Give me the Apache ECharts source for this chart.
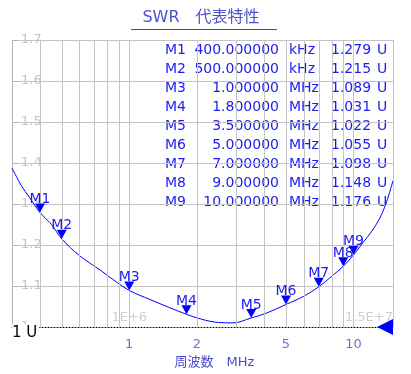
<!DOCTYPE html>
<html><head><meta charset="utf-8">
<script src="https://cdn.jsdelivr.net/npm/echarts@6/dist/echarts.min.js"></script>
<style>html,body{margin:0;padding:0;background:#fff}#c{width:411px;height:374px}</style>
</head><body><div id="c"></div>
<script>
// curve samples (MHz, SWR)
const curveFreqs = [0.3, 0.33, 0.36, 0.4, 0.45, 0.5, 0.6, 0.75, 0.88, 1.0, 1.25, 1.5, 1.8, 2.1, 2.5, 2.9, 3.5, 4.1, 5.0, 6.0, 7.0, 8.0, 9.0, 10.0, 11.0, 12.0, 13.0, 14.0, 15.0];
const curveSwr   = [1.388, 1.345, 1.315, 1.279, 1.250, 1.215, 1.174, 1.137, 1.109, 1.089, 1.066, 1.048, 1.031, 1.019, 1.011, 1.010, 1.022, 1.034, 1.055, 1.075, 1.098, 1.124, 1.148, 1.176, 1.205, 1.232, 1.262, 1.303, 1.357];
// markers
const markerNames = ['M1','M2','M3','M4','M5','M6','M7','M8','M9'];
const markerFreqs = [0.4, 0.5, 1.0, 1.8, 3.5, 5.0, 7.0, 9.0, 10.0];
const markerVals  = [1.279, 1.215, 1.089, 1.031, 1.022, 1.055, 1.098, 1.148, 1.176];
// axis
const gridFreqs = [0.4,0.5,0.6,0.7,0.8,0.9,1,2,3,4,5,6,7,8,9,10,15];
const tickLabelFreqs = [1, 2, 5, 10];
const tickLabels = ['1','2','5','10'];
const innerLabelFreqs = [1, 15];
const innerLabels = ['1E+6', '1.5E+7'];

const blue = '#1c1cf0';
const font = '"DejaVu Sans", "Noto Sans CJK JP", sans-serif';

const table = [];
markerNames.forEach((n, i) => {
  const y = 50 + i * 19;
  const f = markerFreqs[i];
  const ft = f < 1 ? (f * 1000).toFixed(6) : f.toFixed(6);
  const unit = f < 1 ? 'kHz' : 'MHz';
  const st = {fill: blue, font: '14px ' + font, verticalAlign: 'middle'};
  table.push({type:'text', x:165, y:y, style:Object.assign({text:n, align:'left'}, st)});
  table.push({type:'text', x:279, y:y, style:Object.assign({text:ft, align:'right'}, st)});
  table.push({type:'text', x:289, y:y, style:Object.assign({text:unit, align:'left'}, st)});
  table.push({type:'text', x:331, y:y, style:Object.assign({text:markerVals[i].toFixed(3), align:'left'}, st)});
  table.push({type:'text', x:377, y:y, style:Object.assign({text:'U', align:'left'}, st)});
});

const chart = echarts.init(document.getElementById('c'));
chart.setOption({
  animation: false,
  backgroundColor: '#fff',
  grid: {left: 12, right: 18, top: 40, bottom: 41},
  xAxis: {
    type: 'log', logBase: 10, min: 0.3, max: 15,
    axisLine: {show: true, lineStyle: {color: '#000', type: [1, 2], width: 1}},
    axisTick: {show: false}, axisLabel: {show: false}, splitLine: {show: false},
    name: '周波数　MHz', nameLocation: 'middle', nameGap: 29,
    nameTextStyle: {color: '#4a4ad0', fontSize: 13, fontFamily: font, padding: [0, 0, 0, 24]}
  },
  yAxis: {
    type: 'value', min: 1, max: 1.7, interval: 0.1,
    axisLine: {show: true, lineStyle: {color: '#b4b4b4'}},
    axisTick: {show: true, inside: true, length: 6, lineStyle: {color: '#b4b4b4'}},
    axisLabel: {inside: true, margin: 9, color: '#c4c4c4', fontSize: 13, fontFamily: font},
    splitLine: {show: true, showMinLine: false, lineStyle: {color: '#c4c4c4'}}
  },
  graphic: [
    {type:'text', x:201, y:18, style:{text:'SWR　代表特性', fill:'#5050cc', font:'16px ' + font, align:'center', verticalAlign:'middle'}},
    {type:'line', shape:{x1:131, y1:29.5, x2:277, y2:29.5}, style:{stroke:'#4040cc', lineWidth:1}},
    {type:'text', x:12, y:333, z:100, style:{text:'1 U', fill:'#000', font:'15px ' + font, align:'left', verticalAlign:'middle', backgroundColor:'#fff', padding:[1,2,1,0]}}
  ].concat(table),
  series: [
    {
      type: 'line', z: 1, silent: true, data: [], symbol: 'none',
      markLine: {
        silent: true, symbol: ['none','none'], animation: false,
        label: {show: false},
        lineStyle: {color: '#c4c4c4', type: 'solid', width: 1},
        data: gridFreqs.map(f => ({xAxis: f}))
      }
    },
    {
      type: 'line', z: 3, symbol: 'none', smooth: 0.35,
      lineStyle: {color: '#0000ff', width: 1},
      data: curveFreqs.map((f, i) => [f, curveSwr[i]]),
      markPoint: {
        symbol: 'triangle', symbolRotate: 180, symbolSize: [10, 9], symbolOffset: [0, '-50%'],
        itemStyle: {color: '#0000ff'},
        label: {show: true, position: 'top', distance: 2, offset: [0, 5], color: blue, fontSize: 14, fontFamily: font, formatter: p => p.name},
        data: markerNames.map((n, i) => ({name: n, coord: [markerFreqs[i], markerVals[i]]})).concat([
          {name: '', coord: [15, 1], symbolRotate: 90, symbolSize: [16, 16], symbolOffset: [-8, 0], label: {show: false}}
        ])
      }
    },
    {
      type: 'scatter', z: 2, silent: true, symbolSize: 1, itemStyle: {color: 'rgba(0,0,0,0)'},
      label: {show: true, position: 'bottom', distance: 11, color: '#4a4ad0', fontSize: 13, fontFamily: font, formatter: p => tickLabels[p.dataIndex]},
      data: tickLabelFreqs.map(f => [f, 1])
    },
    {
      type: 'scatter', z: 2, silent: true, symbolSize: 1, itemStyle: {color: 'rgba(0,0,0,0)'},
      label: {show: true, position: 'top', distance: 2, color: '#c4c4c4', fontSize: 13, fontFamily: font, formatter: p => innerLabels[p.dataIndex]},
      data: innerLabelFreqs.map((f, i) => ({value: [f, 1], label: i === 1 ? {align: 'right'} : {}}))
    }
  ]
});
</script></body></html>
